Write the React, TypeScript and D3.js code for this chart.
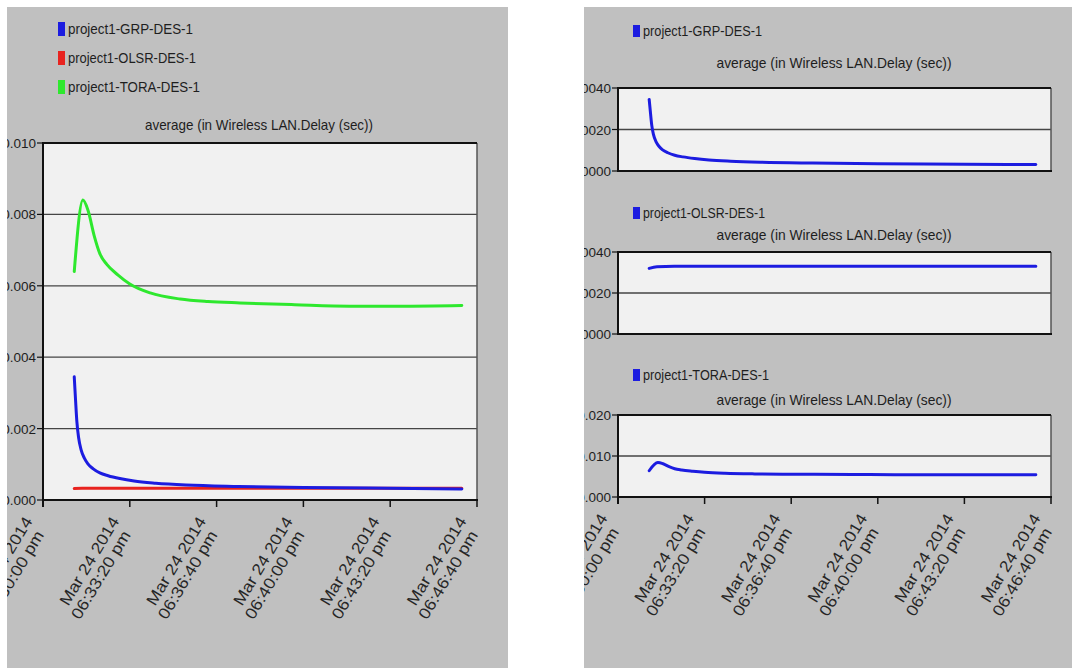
import React from "react";
import * as d3 from "d3";

type Pt = [number, number];

// Seconds after 06:30:00 pm on the simulation clock
const xTickSeconds = [0, 200, 400, 600, 800, 1000];
const xTickDates = ["Mar 24 2014", "Mar 24 2014", "Mar 24 2014", "Mar 24 2014", "Mar 24 2014", "Mar 24 2014"];
const xTickTimes = ["06:30:00 pm", "06:33:20 pm", "06:36:40 pm", "06:40:00 pm", "06:43:20 pm", "06:46:40 pm"];

// Wireless LAN delay (sec), time-averaged
const grpDelay: Pt[] = [
  [72, 0.00345], [75, 0.0028], [78, 0.0022], [82, 0.00175], [88, 0.0014], [95, 0.00118],
  [103, 0.00102], [115, 0.00088], [131, 0.00076], [150, 0.00068], [177, 0.0006],
  [210, 0.00053], [260, 0.00047], [330, 0.00042], [450, 0.00038], [600, 0.00035],
  [800, 0.00033], [965, 0.00031],
];
const olsrDelay: Pt[] = [
  [72, 0.00032], [90, 0.000328], [130, 0.00033], [300, 0.00033], [500, 0.00033],
  [700, 0.00033], [965, 0.00033],
];
const toraDelay: Pt[] = [
  [72, 0.0064], [92, 0.0084], [104, 0.0081], [118, 0.0074], [131, 0.0069], [147, 0.0066],
  [173, 0.0063], [200, 0.00605], [247, 0.0058], [316, 0.00563], [380, 0.00556],
  [454, 0.00552], [580, 0.00547], [707, 0.00543], [820, 0.00543], [965, 0.00545],
];

const legendNames = ["project1-GRP-DES-1", "project1-OLSR-DES-1", "project1-TORA-DES-1"];
const statTitle = "average (in Wireless LAN.Delay (sec))";

const overviewTicks = [0, 0.002, 0.004, 0.006, 0.008, 0.01];
const grpTicks = [0, 0.002, 0.004];
const olsrTicks = [0, 0.0002, 0.0004];
const toraTicks = [0, 0.01, 0.02];

const FONT = "'Liberation Sans', Arial, sans-serif";
const PANEL = "#c0c0c0";
const PLOT_BG = "#f1f1f1";
const BLUE = "#1c1ce0";
const RED = "#e8231f";
const GREEN = "#2ee82e";

interface Series { data: Pt[]; color: string }

interface PlotProps {
  left: number; right: number; top: number; bottom: number;
  yTicks: number[]; fmt: string; series: Series[]; xAxis: boolean;
  title: string; titleX: number; titleY: number; titleLen: number;
}

function Plot(p: PlotProps) {
  const x = d3.scaleLinear().domain([0, 1000]).range([p.left, p.right]);
  const yMax = p.yTicks[p.yTicks.length - 1];
  const y = d3.scaleLinear().domain([0, yMax]).range([p.bottom, p.top]);
  const line = d3.line<Pt>().x(d => x(d[0])).y(d => y(d[1])).curve(d3.curveMonotoneX);
  const f = d3.format(p.fmt);
  return (
    <g>
      <text x={p.titleX} y={p.titleY} textAnchor="middle" fontFamily={FONT} fontSize={14.5}
        fill="#1e1e1e" textLength={p.titleLen} lengthAdjust="spacingAndGlyphs">{p.title}</text>
      <rect x={p.left} y={p.top} width={p.right - p.left} height={p.bottom - p.top} fill={PLOT_BG} />
      {p.yTicks.slice(1, -1).map(t => (
        <line key={"g" + t} x1={p.left} x2={p.right} y1={y(t)} y2={y(t)} stroke="#454545" strokeWidth={1.3} />
      ))}
      {p.series.map((s, i) => (
        <path key={i} d={line(s.data) || ""} fill="none" stroke={s.color} strokeWidth={3}
          strokeLinejoin="round" strokeLinecap="round" />
      ))}
      <line x1={p.right} x2={p.right} y1={p.top} y2={p.bottom} stroke="#555" strokeWidth={1.5} />
      <line x1={p.left} x2={p.right} y1={p.top} y2={p.top} stroke="#111" strokeWidth={2} />
      <line x1={p.left} x2={p.right + 1} y1={p.bottom} y2={p.bottom} stroke="#111" strokeWidth={2} />
      <line x1={p.left} x2={p.left} y1={p.top - 1} y2={p.bottom + (p.xAxis ? 7 : 1)} stroke="#111" strokeWidth={2} />
      {p.yTicks.map(t => (
        <g key={"y" + t}>
          <line x1={p.left - 6} x2={p.left} y1={y(t)} y2={y(t)} stroke="#111" strokeWidth={1.2} />
          <text x={p.left - 7} y={y(t) + 5} textAnchor="end" fontFamily={FONT} fontSize={13.5} fill="#1e1e1e">{f(t)}</text>
        </g>
      ))}
      {p.xAxis && xTickSeconds.map((t, i) => (
        <g key={"x" + t}>
          <line x1={x(t)} x2={x(t)} y1={p.bottom} y2={p.bottom + 7} stroke="#111" strokeWidth={1.5} />
          <g transform={`translate(${x(t) - 10},${p.bottom + 21}) rotate(-59)`} fontFamily={FONT} fontSize={16} fill="#262626">
            <text textAnchor="end" textLength={100} lengthAdjust="spacingAndGlyphs">{xTickDates[i]}</text>
            <text x={-6} y={17} textAnchor="end" textLength={100} lengthAdjust="spacingAndGlyphs">{xTickTimes[i]}</text>
          </g>
        </g>
      ))}
    </g>
  );
}

function LegendItem({ x, y, color, label, size, len, h }:
  { x: number; y: number; color: string; label: string; size: number; len: number; h: number }) {
  return (
    <g>
      <rect x={x} y={y - h / 2} width={7} height={h} fill={color} />
      <text x={x + 10} y={y + 5} fontFamily={FONT} fontSize={size} fill="#1e1e1e"
        textLength={len} lengthAdjust="spacingAndGlyphs">{label}</text>
    </g>
  );
}

export default function App() {
  return (
    <svg width={1072} height={668} style={{ position: "absolute", left: 0, top: 0, background: "#fff" }}>
      <defs>
        <clipPath id="leftPanel"><rect x={7} y={7} width={501} height={661} /></clipPath>
        <clipPath id="rightPanel"><rect x={584} y={7} width={488} height={661} /></clipPath>
      </defs>

      {/* Overlaid overview */}
      <g clipPath="url(#leftPanel)">
        <rect x={7} y={7} width={501} height={661} fill={PANEL} />
        <LegendItem x={58} y={29} color={BLUE} label={legendNames[0]} size={14.5} len={125} h={14} />
        <LegendItem x={58} y={58} color={RED} label={legendNames[1]} size={14.5} len={128} h={14} />
        <LegendItem x={58} y={87} color={GREEN} label={legendNames[2]} size={14.5} len={132} h={14} />
        <Plot left={43} right={477} top={143} bottom={500} yTicks={overviewTicks} fmt=".3f"
          series={[{ data: olsrDelay, color: RED }, { data: grpDelay, color: BLUE }, { data: toraDelay, color: GREEN }]}
          xAxis={true} title={statTitle} titleX={259} titleY={130} titleLen={228} />
      </g>

      {/* Stacked per-scenario panels */}
      <g clipPath="url(#rightPanel)">
        <rect x={584} y={7} width={488} height={661} fill={PANEL} />
        <LegendItem x={633} y={31} color={BLUE} label={legendNames[0]} size={14} len={119} h={12} />
        <Plot left={618} right={1051} top={88} bottom={171} yTicks={grpTicks} fmt=".4f"
          series={[{ data: grpDelay, color: BLUE }]} xAxis={false}
          title={statTitle} titleX={834} titleY={68} titleLen={235} />
        <LegendItem x={633} y={213} color={BLUE} label={legendNames[1]} size={14} len={122} h={12} />
        <Plot left={618} right={1051} top={252} bottom={334} yTicks={olsrTicks} fmt=".5f"
          series={[{ data: olsrDelay, color: BLUE }]} xAxis={false}
          title={statTitle} titleX={834} titleY={240} titleLen={235} />
        <LegendItem x={633} y={375} color={BLUE} label={legendNames[2]} size={14} len={126} h={12} />
        <Plot left={618} right={1051} top={415} bottom={497} yTicks={toraTicks} fmt=".3f"
          series={[{ data: toraDelay, color: BLUE }]} xAxis={true}
          title={statTitle} titleX={834} titleY={405} titleLen={235} />
      </g>
    </svg>
  );
}
